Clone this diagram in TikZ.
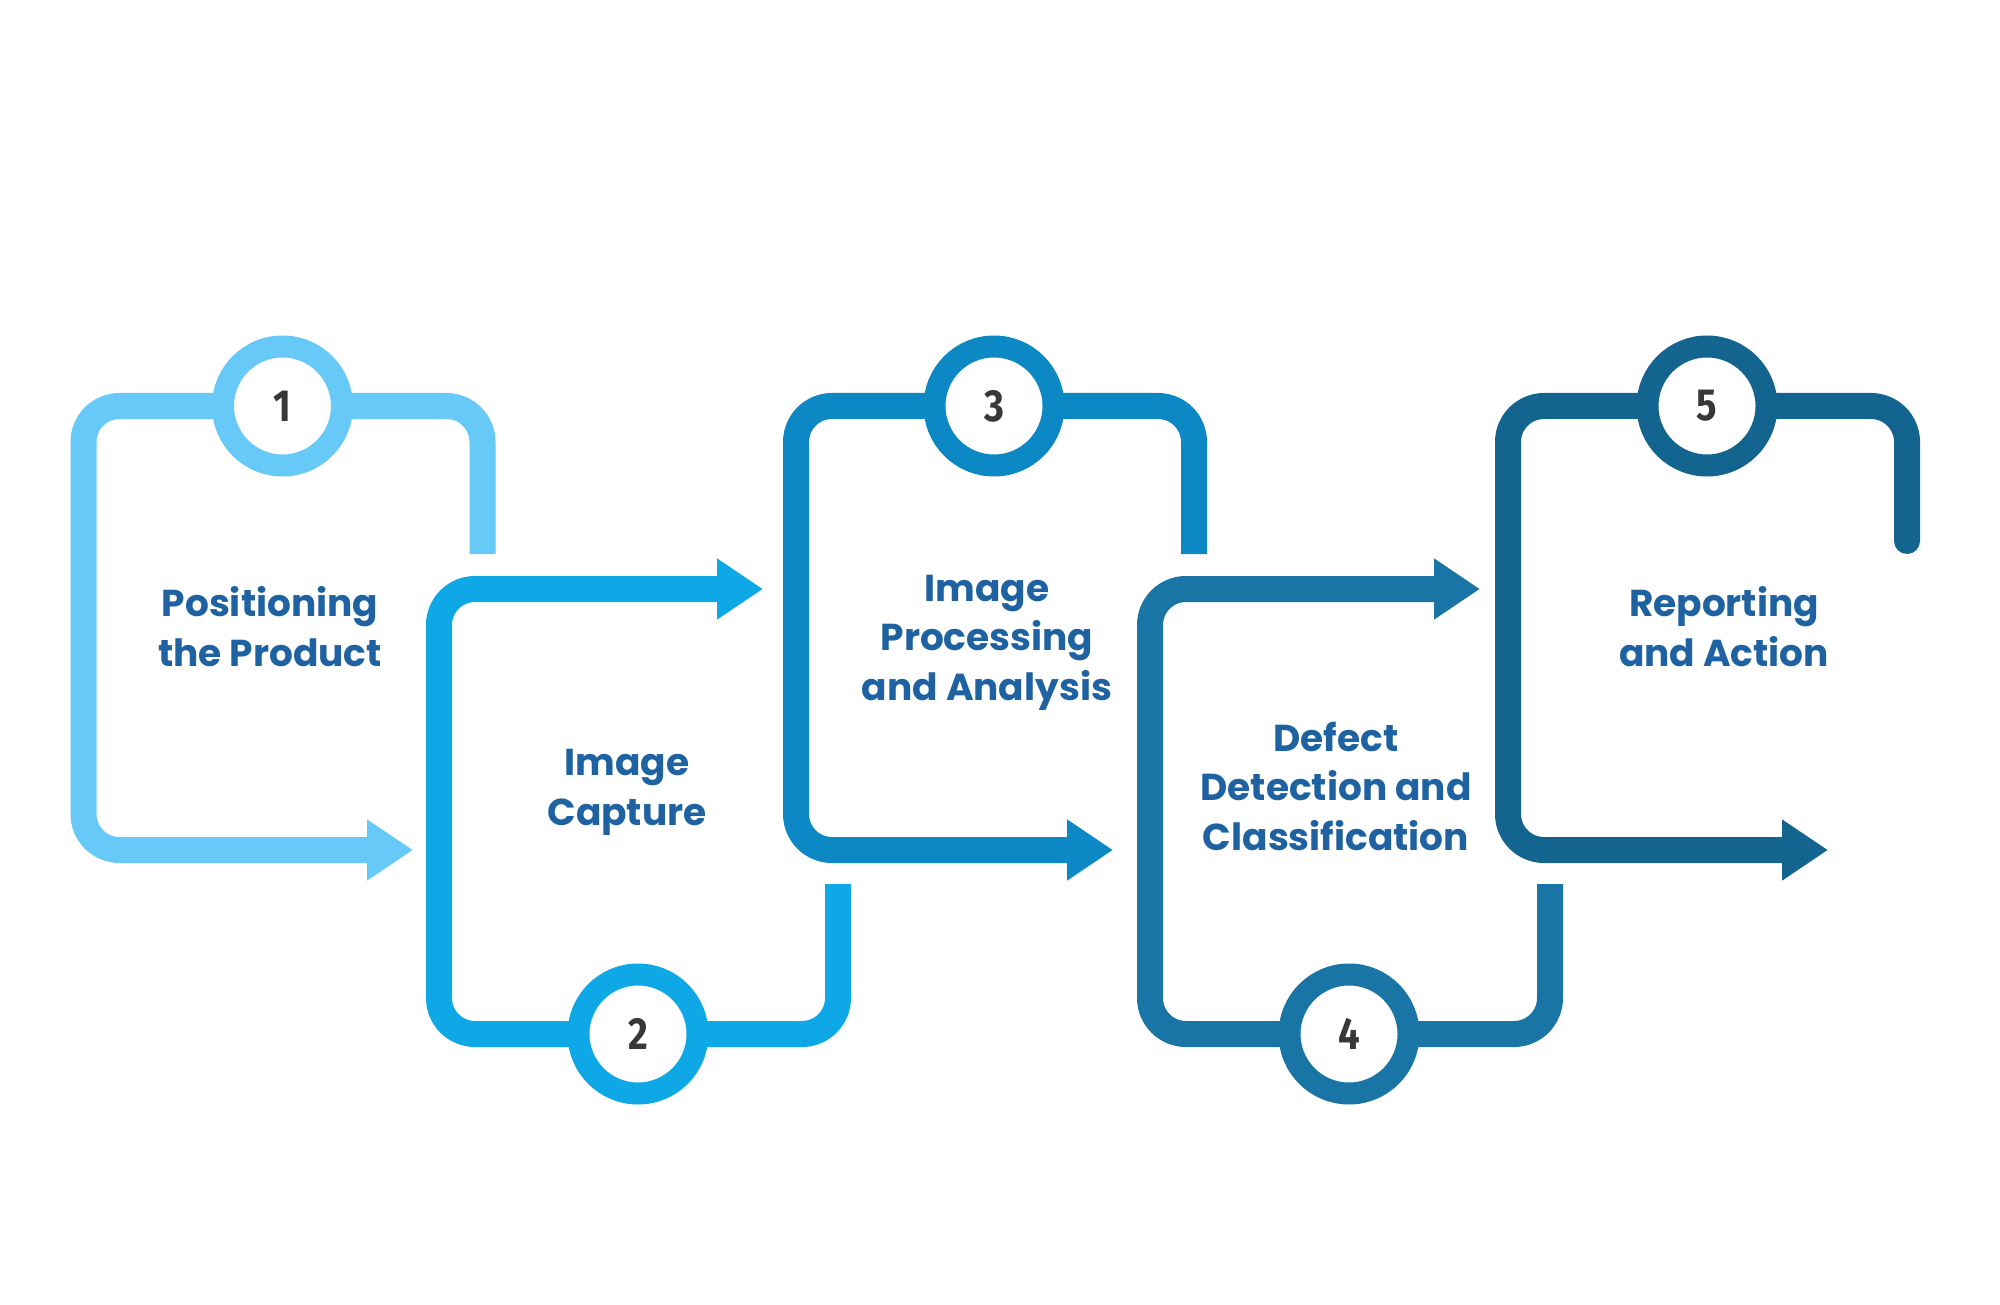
\documentclass[tikz,border=0pt]{standalone}
\usepackage{graphicx}
\usepackage{fontspec}
\setmainfont{Poppins}
\newfontfamily\numfont{Fira Sans}
\usetikzlibrary{arrows.meta}
\definecolor{cA}{HTML}{66C9F7}
\definecolor{cB}{HTML}{0EA8E6}
\definecolor{cC}{HTML}{0C88C4}
\definecolor{cD}{HTML}{1875A6}
\definecolor{cE}{HTML}{13658F}
\definecolor{txtblue}{HTML}{1E62A2}
\definecolor{numgray}{HTML}{383838}
\begin{document}
\begin{tikzpicture}[x=1pt,y=-1pt,
  frame/.style={line width=26pt, rounded corners=36pt, -{Triangle[length=46pt,width=58pt]}},
  ring/.style={circle, draw, line width=22pt, fill=white, minimum size=119pt, inner sep=0pt, text=numgray,
    font=\numfont\bfseries\fontsize{45}{45}\selectfont},
  steplabel/.style={text=txtblue, font=\bfseries\fontsize{37.5}{49.5}\selectfont, align=center, inner sep=0pt}]
\fill[white] (0,0) rectangle (2000,1305);
\useasboundingbox (0,0) rectangle (2000,1305);

% Box 1
\coordinate (e1) at (482.5,554);
\coordinate (a1) at (413,850);
\draw[frame, cA] (e1) -- (482.5,406) -- (83.5,406) -- (83.5,850) -- (a1);
\node[ring, draw=cA] (n1) at (282.5,406) {\scalebox{0.85}[1]{1}};

% Box 2
\coordinate (e2) at (838,884);
\coordinate (a2) at (763,589);
\draw[frame, cB] (e2) -- (838,1034) -- (439,1034) -- (439,589) -- (a2);
\node[ring, draw=cB] (n2) at (638,1034) {\scalebox{0.85}[1]{2}};

% Box 3
\coordinate (e3) at (1194,554);
\coordinate (a3) at (1113,850);
\draw[frame, cC] (e3) -- (1194,406) -- (796,406) -- (796,850) -- (a3);
\node[ring, draw=cC] (n3) at (994,406) {\scalebox{0.85}[1]{3}};

% Box 4
\coordinate (e4) at (1550,884);
\coordinate (a4) at (1480,589);
\draw[frame, cD] (e4) -- (1550,1034) -- (1150,1034) -- (1150,589) -- (a4);
\node[ring, draw=cD] (n4) at (1349,1034) {\scalebox{0.85}[1]{4}};

% Box 5
\coordinate (e5) at (1907,541);
\coordinate (a5) at (1828,850);
\draw[frame, cE] (e5) -- (1907,406) -- (1508,406) -- (1508,850) -- (a5);
\fill[cE] (e5) circle (13pt);
\node[ring, draw=cE] (n5) at (1707,406) {\scalebox{0.85}[1]{5}};

% Labels (anchor=base is the baseline of the last line)
\node[steplabel, anchor=base] (t1) at (270,666) {Positioning\\the Product};
\node[steplabel, anchor=base] (t2) at (627,825) {Image\\Capture};
\node[steplabel, anchor=base] (t3) at (987,700) {Image\\Processing\\and Analysis};
\node[steplabel, anchor=base] (t4) at (1336,850) {Defect\\Detection and\\Classification};
\node[steplabel, anchor=base] (t5) at (1724,666) {Reporting\\and Action};
\end{tikzpicture}
\end{document}
